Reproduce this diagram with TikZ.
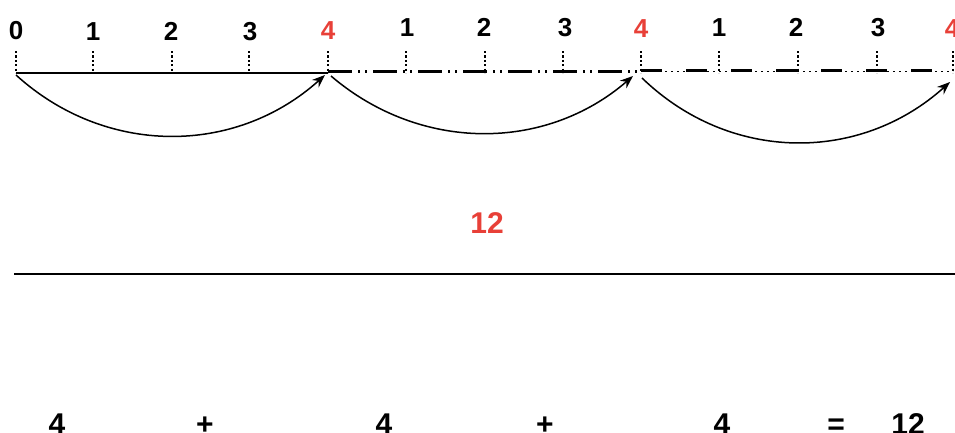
\documentclass[tikz,border=0pt]{standalone}
\usepackage{fontspec}
\setmainfont{Liberation Sans}
\usetikzlibrary{arrows.meta}
\definecolor{redlab}{RGB}{232,64,56}
\tikzset{
  lab/.style={font=\fontsize{26}{26}\selectfont\bfseries, inner sep=0pt, anchor=base},
  redlab4/.style={lab, text=redlab},
  tick/.style={line width=1.2pt, dash pattern=on 2.2pt off 2.2pt},
  hop/.style={line width=1.5pt, -{Stealth[length=13pt,width=10pt]}},
  big/.style={font=\fontsize{30}{30}\selectfont\bfseries, inner sep=0pt, anchor=base},
  eqlab/.style={font=\fontsize{30}{30}\selectfont\bfseries, inner sep=0pt, anchor=base}
}
\begin{document}
\begin{tikzpicture}[x=1pt,y=-1pt]
\useasboundingbox (0,0) rectangle (955,432);
% tick base points
\foreach \n/\x in {0/16,1/93,2/172,3/249,4/328,5/406,6/485,7/563,8/641,9/719,10/798,11/877,12/953}{
  \coordinate (b\n) at (\x,73);
  \coordinate (t\n) at (\x,51);
  \draw[tick] (t\n) -- (b\n);
}
% labels
\node[lab] (l0) at (16,39) {0};
\node[lab] (l1) at (93,40) {1};
\node[lab] (l2) at (171,40) {2};
\node[lab] (l3) at (250,40) {3};
\node[redlab4] (l4) at (328,39) {4};
\node[lab] (l5) at (407,36) {1};
\node[lab] (l6) at (484,36) {2};
\node[lab] (l7) at (565,36) {3};
\node[redlab4] (l8) at (641,37) {4};
\node[lab] (l9) at (719,36) {1};
\node[lab] (l10) at (796,36) {2};
\node[lab] (l11) at (878,36) {3};
\node[redlab4] (l12) at (952,37) {4};
% number line segments
\draw[line width=2.7pt] (b0) -- (b4);
\draw[line width=2.7pt, dash pattern=on 24pt off 6pt on 2pt off 5pt on 2pt off 6pt] ([yshift=1.5pt]b4) -- ([yshift=1.5pt]b8);
\draw[line width=1.4pt, dash pattern=on 2pt off 4pt] ([yshift=1.5pt]b8) -- ([yshift=1.5pt]b12);
\draw[line width=2.6pt, dash pattern=on 21pt off 24pt] ([yshift=2.5pt]b8) -- ([yshift=2.5pt]b12);
% hops
\coordinate (s1) at (16,75);
\coordinate (e1) at (325,75);
\coordinate (s2) at (331,76);
\coordinate (e2) at (633,76);
\coordinate (s3) at (642,78);
\coordinate (e3) at (950,82);
\draw[hop] (s1) .. controls (105,156) and (235,156) .. (e1);
\draw[hop] (s2) .. controls (420,152) and (545,152) .. (e2);
\draw[hop] (s3) .. controls (730,163) and (860,163) .. (e3);
% total
\node[big, text=redlab] (tot) at (487,233) {12};
\draw[line width=2.7pt] (14,274) coordinate (hl) -- (955,274) coordinate (hr);
% equation
\node[eqlab] (q1) at (57,434) {4};
\node[eqlab] (q2) at (205,434) {+};
\node[eqlab] (q3) at (384,434) {4};
\node[eqlab] (q4) at (545,434) {+};
\node[eqlab] (q5) at (722,434) {4};
\node[eqlab] (q6) at (836,434) {=};
\node[eqlab] (q7) at (908,434) {12};
\end{tikzpicture}
\end{document}
